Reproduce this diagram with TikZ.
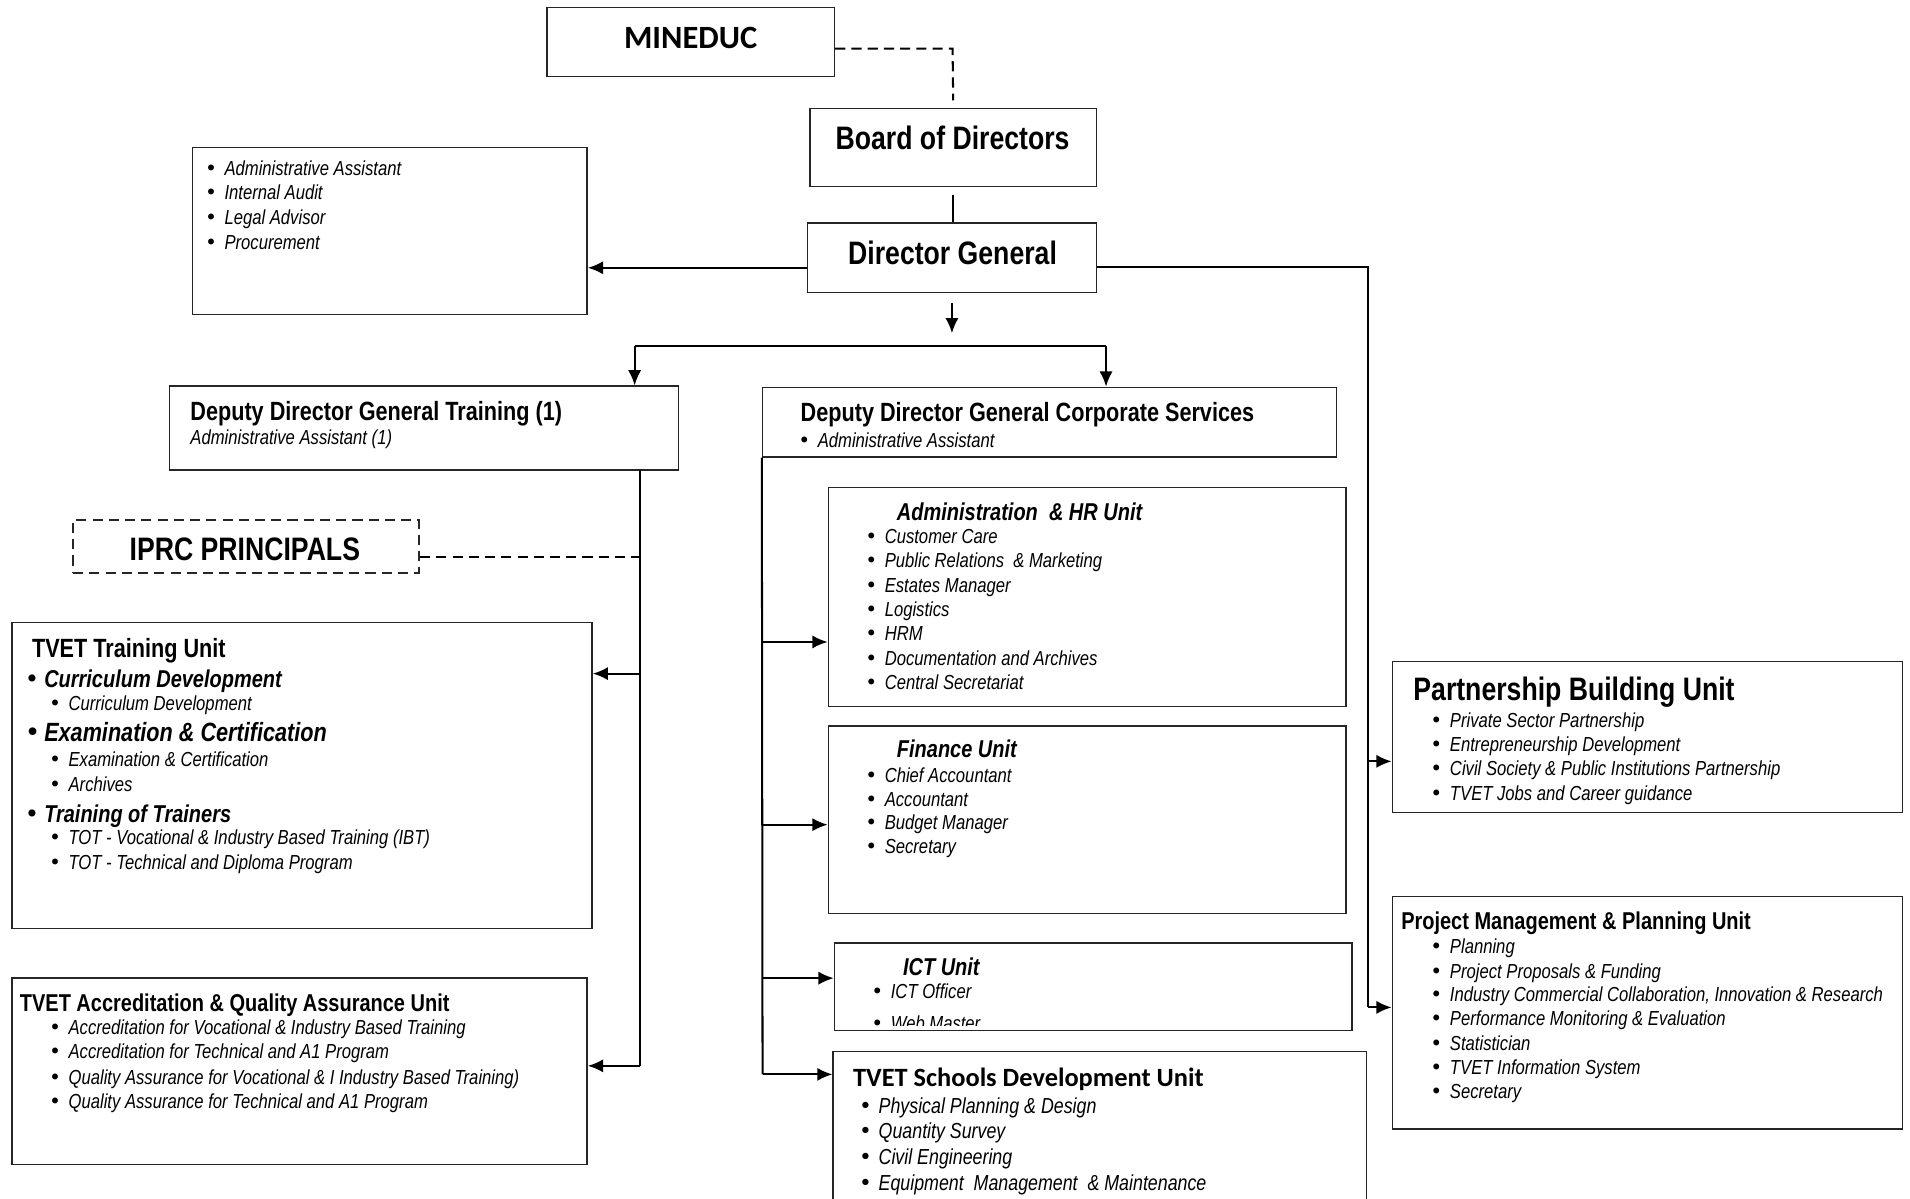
\documentclass[tikz,border=0pt]{standalone}
\usepackage{fontspec}
\setmainfont{Liberation Sans}[FakeStretch=0.82]
\newfontfamily\calfont{Carlito}
\newfontfamily\bulfont{DejaVu Sans}
\usetikzlibrary{arrows.meta,fit}
\newcounter{txtc}
\newcommand\Txt[3][]{\stepcounter{txtc}\node[lbl,#1] (t\arabic{txtc}) at (#2) {#3};}
\newcommand\Bul{\makebox[9.6pt][l]{\bulfont\upshape\mdseries\char"2022}}
\begin{document}
\begin{tikzpicture}[x=0.6pt,y=-0.6pt,
  box/.style={draw=black!85, line width=0.7pt, inner sep=0pt},
  conn/.style={line width=1pt},
  dsh/.style={conn, dash pattern=on 5pt off 3pt},
  arr/.style={conn, -{Latex[length=7.5pt,width=6.5pt]}},
  lbl/.style={anchor=base west, inner sep=0pt, font=\fontsize{10}{12}\selectfont\itshape},
  t16/.style={font=\bfseries\fontsize{16}{19}\selectfont},
  t13/.style={font=\bfseries\fontsize{13}{15}\selectfont},
  t12/.style={font=\bfseries\fontsize{12}{14}\selectfont},
  bi12/.style={font=\bfseries\itshape\fontsize{12}{14}\selectfont},
  bi13/.style={font=\bfseries\itshape\fontsize{13}{15}\selectfont},
  c13/.style={font=\calfont\bfseries\fontsize{13}{15}\selectfont},
  i11/.style={font=\itshape\fontsize{10.7}{13}\selectfont}]
\useasboundingbox (0,0) rectangle (1568,984);

% ---------- boxes ----------
\node[box,fit={(449,6)(685,63)}] (mineduc) {};
\node[box,fit={(665,89)(900,153)}] (board) {};
\node[box,fit={(663,183)(900,240)}] (dg) {};
\node[box,fit={(158,121)(482,258)}] (aux) {};
\node[box,fit={(139,317)(557,386)}] (ddgt) {};
\node[box,dash pattern=on 5pt off 3pt,line width=1pt,fit={(60,427)(344,470)}] (iprc) {};
\node[box,fit={(10,511)(486,762)}] (ttu) {};
\node[box,fit={(10,803)(482,956)}] (acc) {};
\node[box,fit={(626,318)(1097,375)}] (ddgcs) {};
\node[box,fit={(680,400)(1105,580)}] (ahr) {};
\node[box,fit={(680,596)(1105,750)}] (fin) {};
\node[box,fit={(685,774)(1110,846)}] (ict) {};
\node[box,fit={(684,863)(1122,1000)}] (tsd) {};
\node[box,fit={(1143,543)(1562,667)}] (pb) {};
\node[box,fit={(1143,736)(1562,927)}] (pm) {};

% ---------- connectors ----------
\coordinate (m1) at (782,40);
\draw[dsh] (m1 -| mineduc.east) -- (m1) -- ([yshift=3.6pt]board.north);
\coordinate (bs) at ([yshift=-4pt]board.south);
\draw[conn] (bs) -- (bs |- dg.north);
\coordinate (dgw) at ([yshift=-5pt]dg.west);
\draw[arr] (dgw) -- (dgw -| aux.east);
\coordinate (dge) at ([yshift=-4.5pt]dg.east);
\coordinate (rb) at (1123,827);
\coordinate (rm) at (1123,625);
\draw[conn] (dge) -| (rb);
\draw[arr] (rm) -- (rm -| pb.west);
\draw[arr] (rb) -- (rb -| pm.west);
\draw[arr] ([yshift=-4.8pt]dg.south) -- ([yshift=-19.8pt]dg.south);
\coordinate (bl) at (521,284);
\coordinate (br) at (908,284);
\draw[conn] (bl) -- (br);
\draw[arr] (bl) -- (bl |- ddgt.north);
\draw[arr] (br) -- (br |- ddgcs.north);
% training branch
\coordinate (tv1) at (525,386);
\coordinate (tv2) at (525,875);
\coordinate (ta) at (525,553);
\coordinate (ti) at (525,457);
\draw[conn] (tv1) -- (tv2);
\draw[arr] (ta) -- (ta -| ttu.east);
\draw[arr] (tv2) -- (tv2 -| acc.east);
\draw[dsh] (ti -| iprc.east) -- (ti);
% corporate branch
\coordinate (cv2) at (626,882);
\coordinate (c1) at (626,527);
\coordinate (c2) at (626,677);
\coordinate (c3) at (626,803);
\draw[conn] (ddgcs.south west) -- (cv2);
\draw[arr] (c1) -- (c1 -| ahr.west);
\draw[arr] (c2) -- (c2 -| fin.west);
\draw[arr] (c3) -- (c3 -| ict.west);
\draw[arr] (cv2) -- (cv2 -| tsd.west);

% ---------- texts ----------
\node[font=\calfont\bfseries\fontsize{16}{19}\selectfont] (tmineduc) at (567,31) {MINEDUC};
\node[t16] (tboard) at (782,113) {Board of Directors};
\node[t16] (tdg) at (782,208) {Director General};
\node[t16] (tiprc) at (201,451) {IPRC PRINCIPALS};

\Txt{168,144}{\Bul Administrative Assistant}
\Txt{168,164}{\Bul Internal Audit}
\Txt{168,184}{\Bul Legal Advisor}
\Txt{168,205}{\Bul Procurement}

\Txt[t13]{156,345}{Deputy Director General Training (1)}
\Txt{156,365}{Administrative Assistant (1)}

\Txt[t13]{26,540}{TVET Training Unit}
\Txt[bi12]{20,564}{\Bul Curriculum Development}
\Txt{40,583}{\Bul Curriculum Development}
\Txt[bi13]{20,609}{\Bul Examination \& Certification}
\Txt{40,629}{\Bul Examination \& Certification}
\Txt{40,650}{\Bul Archives}
\Txt[bi12]{20,675}{\Bul Training of Trainers}
\Txt{40,693}{\Bul TOT - Vocational \& Industry Based Training (IBT)}
\Txt{40,714}{\Bul TOT - Technical and Diploma Program}

\Txt[t12]{16,830}{TVET Accreditation \& Quality Assurance Unit}
\Txt{40,849}{\Bul Accreditation for Vocational \& Industry Based Training}
\Txt{40,869}{\Bul Accreditation for Technical and A1 Program}
\Txt{40,890}{\Bul Quality Assurance for Vocational \& I Industry Based Training)}
\Txt{40,910}{\Bul Quality Assurance for Technical and A1 Program}

\Txt[t13]{657,346}{Deputy Director General Corporate Services}
\Txt{655,367}{\Bul Administrative Assistant}

\Txt[bi12]{736,427}{Administration\ \ \& HR Unit}
\Txt{710,446}{\Bul Customer Care}
\Txt{710,466}{\Bul Public Relations\ \ \& Marketing}
\Txt{710,486}{\Bul Estates Manager}
\Txt{710,506}{\Bul Logistics}
\Txt{710,526}{\Bul HRM}
\Txt{710,546}{\Bul Documentation and Archives}
\Txt{710,566}{\Bul Central Secretariat}

\Txt[bi12]{736,622}{Finance Unit}
\Txt{710,642}{\Bul Chief Accountant}
\Txt{710,662}{\Bul Accountant}
\Txt{710,681}{\Bul Budget Manager}
\Txt{710,701}{\Bul Secretary}

\Txt[bi12]{741,801}{ICT Unit}
\Txt{715,820}{\Bul ICT Officer}
\begin{scope}
\clip (686,775) rectangle (1109,842);
\Txt{715,846}{\Bul Web Master}
\end{scope}

\Txt[c13]{700,892}{TVET Schools Development Unit}
\Txt[i11]{705,914}{\Bul Physical Planning \& Design}
\Txt[i11]{705,935}{\Bul Quantity Survey}
\Txt[i11]{705,956}{\Bul Civil Engineering}
\Txt[i11]{705,977}{\Bul Equipment\ \ Management\ \ \& Maintenance}

\Txt[t16]{1160,575}{Partnership Building Unit}
\Txt{1174,597}{\Bul Private Sector Partnership}
\Txt{1174,617}{\Bul Entrepreneurship Development}
\Txt{1174,637}{\Bul Civil Society \& Public Institutions Partnership}
\Txt{1174,657}{\Bul TVET Jobs and Career guidance}

\Txt[t12]{1150,763}{Project Management \& Planning Unit}
\Txt{1174,783}{\Bul Planning}
\Txt{1174,803}{\Bul Project Proposals \& Funding}
\Txt{1174,822}{\Bul Industry Commercial Collaboration, Innovation \& Research}
\Txt{1174,842}{\Bul Performance Monitoring \& Evaluation}
\Txt{1174,862}{\Bul Statistician}
\Txt{1174,882}{\Bul TVET Information System}
\Txt{1174,902}{\Bul Secretary}
\end{tikzpicture}
\end{document}
